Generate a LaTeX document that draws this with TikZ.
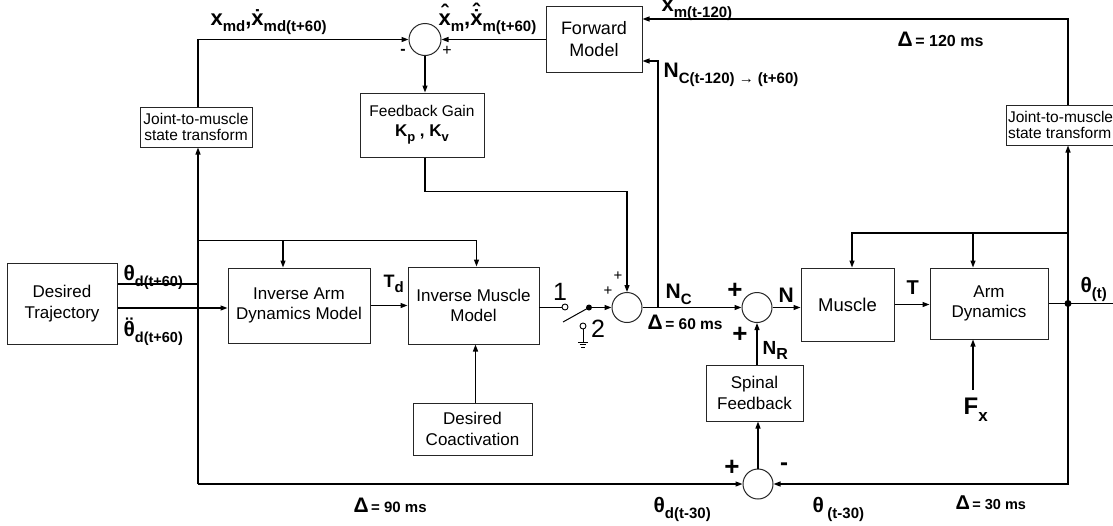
\documentclass[tikz,border=0pt]{standalone}
\usepackage{fontspec}
\setmainfont{Liberation Sans}
\usetikzlibrary{arrows.meta}
\newcommand\sbx[2][15]{\raisebox{-0.3em}{\fontsize{#1}{#1}\selectfont #2}}
\newcommand\acc[2]{{\ooalign{#1\cr\hidewidth#2\hidewidth\cr}}}
\newcommand\dacc[3]{{\ooalign{#1\cr\hidewidth#2\hidewidth\cr\hidewidth#3\hidewidth\cr}}}
\newcommand\dl[3]{{\fontsize{#1}{#1}\selectfont Δ}{\fontsize{#2}{#2}\selectfont\,= #3 ms}}
\begin{document}
\begin{tikzpicture}[x=1pt,y=-1pt,line width=1.2pt,
  box/.style={draw=black!85,line width=1pt,inner sep=0pt,align=center,font=\fontsize{17}{20.5}\selectfont},
  sumc/.style={draw=black!85,circle,line width=1pt,minimum size=30pt,inner sep=0pt},
  arr/.style={-{Triangle[length=7pt,width=5pt]}},
  lbl/.style={inner sep=0pt,anchor=base west},
  sgn/.style={inner sep=0pt,anchor=center},
  dotn/.style={circle,fill=black,inner sep=0pt,minimum size=7pt},
  opn/.style={circle,draw,fill=white,inner sep=0pt,minimum size=6pt,line width=0.9pt}]
\clip (0,0) rectangle (1113,525);
\fill[white] (0,0) rectangle (1113,525);
% boxes
\node[box,minimum width=110pt,minimum height=81pt] (traj) at (62,303.5) {Desired\\Trajectory};
\node[box,minimum width=112pt,minimum height=40pt,font=\fontsize{15.5}{16}\selectfont] (jtl) at (196,127) {Joint-to-muscle\\state transform};
\node[box,minimum width=124pt,minimum height=64pt,font=\fontsize{15.5}{20}\selectfont] (fbg) at (422,125) {Feedback Gain\\{\bfseries\fontsize{17}{17}\selectfont K\sbx[13]{p} , K\sbx[13]{v}}};
\node[box,minimum width=96pt,minimum height=66pt,font=\fontsize{18}{21.5}\selectfont] (fwd) at (594,39) {Forward\\Model};
\node[box,minimum width=142pt,minimum height=75pt] (iarm) at (299,305.5) {Inverse Arm\\Dynamics Model};
\node[box,minimum width=131pt,minimum height=77pt] (imus) at (473.5,305.5) {Inverse Muscle\\Model};
\node[box,minimum width=119pt,minimum height=52pt] (coact) at (472.5,429) {Desired\\Coactivation};
\node[box,minimum width=97pt,minimum height=56pt] (spinal) at (754.5,393) {Spinal\\Feedback};
\node[box,minimum width=93pt,minimum height=73pt,font=\fontsize{18.5}{21}\selectfont] (muscle) at (847.5,304.5) {Muscle};
\node[box,minimum width=118pt,minimum height=71pt] (armdyn) at (989,303.5) {Arm\\Dynamics};
\node[box,anchor=west,inner xsep=1.5pt,minimum height=40pt,align=left,font=\fontsize{15.5}{16}\selectfont] (jtr) at (1006,125) {Joint-to-muscle\\state transform};
% summing junctions
\node[sumc,minimum size=32pt] (c0) at (425,39.5) {};
\node[sumc] (c1) at (627,307.5) {};
\node[sumc] (c2) at (757,307.5) {};
\node[sumc] (c3) at (758,484) {};
% helper coordinates
\coordinate (colL) at (198,0);
\coordinate (colR) at (1068,0);
\coordinate (tr1) at ([yshift=19.5pt]traj.east);
\coordinate (tr2) at ([yshift=-4.5pt]traj.east);
\coordinate (bl) at (198,484);
\coordinate (hl) at (198,240.7);
\coordinate (hb) at (283,240.7);
\coordinate (nb) at (658,307.5);
\coordinate (hr) at (1068,233);
\coordinate (hrb) at (973,233);
\coordinate (fx) at (973,390);
\coordinate (outR) at (1120,303.5);
\coordinate (im1) at (539,307);
\coordinate (blend) at (563,322);
% switch
\node[opn] (s1) at (565,307) {};
\node[dotn,minimum size=6pt] (s0) at (589,307.5) {};
\node[opn] (s2) at (583,326) {};
\coordinate (g0) at (583,342);
\draw[line width=1pt] (im1) -- (s1.west);
\draw[line width=1pt] (s0.center) -- (blend);
\draw[arr] (s0.center) -- (c1.west);
\draw[line width=1pt] (s2.south) -- (g0);
\draw[line width=0.9pt] ([xshift=-5pt]g0) -- ([xshift=5pt]g0);
\draw[line width=0.9pt] ([xshift=-3.3pt,yshift=-2.6pt]g0) -- ([xshift=3.3pt,yshift=-2.6pt]g0);
\draw[line width=0.9pt] ([xshift=-1.6pt,yshift=-5.2pt]g0) -- ([xshift=1.6pt,yshift=-5.2pt]g0);
% junction dot
\node[dotn] (jn) at (1068,303.5) {};
% connectors
\draw (tr1) -- (tr1 -| colL);
\draw[arr] (tr2) -- (tr2 -| iarm.west);
\draw[arr] (bl) -- (colL |- jtl.south);
\draw[arr] (bl) -- (c3.west);
\draw[arr] (hl) -| ([xshift=3pt]imus.north);
\draw[arr] (hb) -- (hb |- iarm.north);
\draw[arr] (colL |- jtl.north) |- (c0.west);
\draw[arr] (fwd.west |- c0.east) -- (c0.east);
\draw[arr] (c0.south) -- (c0.south |- fbg.north);
\draw[arr] (c0.south |- fbg.south) -- ++(0,34) -| (c1.north);
\draw[arr] (c1.east) -- (c2.west);
\draw[arr] (nb) |- ([yshift=-22pt]fwd.east);
\draw[arr] (colR |- jtr.north) |- ([yshift=20pt]fwd.east);
\draw (armdyn.east) -- (jn.center) -- (outR);
\draw[arr] (jn.center) -- (colR |- jtr.south);
\draw[arr] (hr) -| ([xshift=4.5pt]muscle.north);
\draw[arr] (hrb) -- (hrb |- armdyn.north);
\draw[arr] (fx) -- (fx |- armdyn.south);
\draw[arr] (muscle.east) -- (muscle.east -| armdyn.west);
\draw[arr] (iarm.east) -- (iarm.east -| imus.west);
\draw[arr] (c2.east) -- (c2.east -| muscle.west);
\draw[arr] (c2.south |- spinal.north) -- (c2.south);
\draw[arr] (c3.north) -- (c3.north |- spinal.south);
\draw[arr] (jn.center) |- (c3.east);
\draw[arr] ([xshift=3pt]coact.north) -- ([xshift=3pt]coact.north |- imus.south);
% labels
\begin{scope}[font=\bfseries]
\node[lbl,font=\bfseries\fontsize{22}{22}\selectfont] (lxmd) at (210,25) {x\sbx{md},\acc{x}{˙}\sbx{md(t+60)}};
\node[lbl,font=\bfseries\fontsize{22}{22}\selectfont] (lxm) at (438,25) {\acc{x}{\raisebox{0.2em}{ˆ}}\sbx{m},\dacc{x}{˙}{\raisebox{0.25em}{ˆ}}\sbx{m(t+60)}};
\node[lbl,font=\bfseries\fontsize{22}{22}\selectfont] (lxmt) at (661,11) {x\sbx{m(t-120)}};
\node[lbl,font=\bfseries\fontsize{21}{21}\selectfont] (lnct) at (663,77) {N\sbx{C(t-120) → (t+60)}};
\node[lbl,font=\bfseries\fontsize{21}{21}\selectfont] (lthd) at (123,280) {θ\sbx[14.5]{d(t+60)}};
\node[lbl,font=\bfseries\fontsize{21}{21}\selectfont] (lthdd) at (123,336) {\acc{θ}{\raisebox{0.15em}{¨}}\sbx[14.5]{d(t+60)}};
\node[lbl,font=\bfseries\fontsize{18}{18}\selectfont] (ltd) at (383,287) {T\sbx{d}};
\node[lbl,font=\bfseries\fontsize{21}{21}\selectfont] (lnc) at (665,298) {N\sbx{C}};
\node[lbl,font=\bfseries\fontsize{21}{21}\selectfont] (ln) at (778,302) {N};
\node[lbl,font=\bfseries\fontsize{19}{19}\selectfont] (lnr) at (762,354) {N\sbx[16]{R}};
\node[lbl,font=\bfseries\fontsize{20}{20}\selectfont] (lT) at (906,294) {T};
\node[lbl,font=\bfseries\fontsize{21}{21}\selectfont] (lth) at (1080,292) {θ\sbx{(t)}};
\node[lbl,font=\bfseries\fontsize{24}{24}\selectfont] (lfx) at (963,414) {F\sbx[17]{x}};
\node[lbl,font=\bfseries\fontsize{21}{21}\selectfont] (lthd30) at (653,512) {θ\sbx{d(t-30)}};
\node[lbl,font=\bfseries\fontsize{21}{21}\selectfont] (lth30) at (812,512) {θ\,\sbx{(t-30)}};
\node[lbl] (d90) at (353,512) {\dl{21}{15}{90}};
\node[lbl] (d30) at (955,509) {\dl{20}{14.5}{30}};
\node[lbl] (d60) at (647,329) {\dl{21}{15.5}{60}};
\node[lbl] (d120) at (897,46) {\dl{21}{16}{120}};
\node[sgn,font=\bfseries\fontsize{16}{16}\selectfont] (m0) at (403,52) {-};
\node[sgn,font=\mdseries\fontsize{16}{16}\selectfont] (p0) at (447,51) {+};
\node[sgn,font=\mdseries\fontsize{15}{15}\selectfont] (p1a) at (608,291) {+};
\node[sgn,font=\mdseries\fontsize{15}{15}\selectfont] (p1b) at (618,276) {+};
\node[sgn,font=\bfseries\fontsize{26}{26}\selectfont] (p2a) at (735,291) {+};
\node[sgn,font=\bfseries\fontsize{26}{26}\selectfont] (p2b) at (740,335) {+};
\node[sgn,font=\bfseries\fontsize{26}{26}\selectfont] (p3) at (732,468) {+};
\node[sgn,font=\bfseries\fontsize{24}{24}\selectfont] (m3) at (784,467) {-};
\node[sgn,font=\mdseries\fontsize{25}{25}\selectfont] (one) at (560,292) {1};
\node[sgn,font=\mdseries\fontsize{25}{25}\selectfont] (two) at (598,329) {2};
\end{scope}
\end{tikzpicture}
\end{document}
